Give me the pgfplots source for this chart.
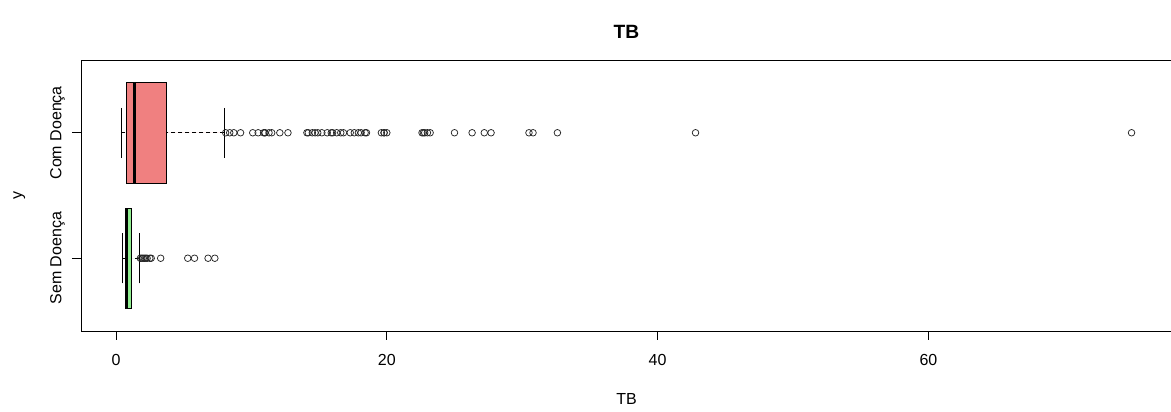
\documentclass[border=0pt]{standalone}
\usepackage{pgfplots}
\pgfplotsset{compat=1.18}
\usepgfplotslibrary{statistics}
\usepackage{fontspec}
\setmainfont{Liberation Sans}
\definecolor{coral}{RGB}{240,128,128}
\definecolor{lgreen}{RGB}{144,238,144}
\begin{document}
\fontsize{16}{19}\selectfont
\begin{tikzpicture}
\path[use as bounding box] (-81pt,-81pt) rectangle (1090pt,331pt);
\begin{axis}[
  at={(0pt,0pt)}, anchor=south west,
  scale only axis, width=1091pt, height=271pt,
  xmin=-2.584, xmax=77.984, ymin=0.42, ymax=2.58,
  axis line style={black, line width=0.75pt},
  xtick={0,20,40,60}, ytick={1,2}, yticklabels={Sem Doença, Com Doença},
  tick align=outside, major tick length=9pt,
  xtick pos=bottom, ytick pos=left,
  tick style={black, line width=0.75pt},
  /pgf/number format/assume math mode=true,
  xticklabel style={anchor=base, yshift=-25pt, font=\fontsize{16}{19}\selectfont},
  yticklabel style={xshift=-10.5pt, rotate=90, anchor=base, font=\fontsize{16}{19}\selectfont},
  title={TB},
  title style={at={(axis description cs:0.5,1)}, anchor=base, yshift=15pt, font=\bfseries\fontsize{19.2}{23}\selectfont},
  xlabel={TB}, ylabel={y},
  every axis x label/.style={at={(axis description cs:0.5,0)}, anchor=base, yshift=-74pt, font=\fontsize{16}{19}\selectfont},
  every axis y label/.style={at={(axis description cs:0,0.5)}, xshift=-59pt, rotate=90, anchor=base, font=\fontsize{16}{19}\selectfont},
  boxplot/draw direction=x,
  boxplot/box extend=0.8,
  boxplot/whisker extend=0.4,
  boxplot/every median/.style={line width=3pt},
  boxplot/draw/lower whisker/.code={%
    \draw[dash pattern=on 4pt off 3pt] (boxplot box cs:\pgfplotsboxplotvalue{lower whisker},0.5) -- (boxplot box cs:\pgfplotsboxplotvalue{lower quartile},0.5);
    \draw (boxplot whisker cs:\pgfplotsboxplotvalue{lower whisker},0) -- (boxplot whisker cs:\pgfplotsboxplotvalue{lower whisker},1);
  },
  boxplot/draw/upper whisker/.code={%
    \draw[dash pattern=on 4pt off 3pt] (boxplot box cs:\pgfplotsboxplotvalue{upper whisker},0.5) -- (boxplot box cs:\pgfplotsboxplotvalue{upper quartile},0.5);
    \draw (boxplot whisker cs:\pgfplotsboxplotvalue{upper whisker},0) -- (boxplot whisker cs:\pgfplotsboxplotvalue{upper whisker},1);
  },
]
\addplot[boxplot prepared={draw position=2, lower whisker=0.4, lower quartile=0.8, median=1.4, upper quartile=3.7, upper whisker=8.0},
  fill=coral, draw=black, line width=0.75pt,
  mark=o, mark size=3.3pt, mark options={draw=black!85, fill=none, solid, line width=0.75pt}]
  table[row sep=\\, y index=0] {
  v\\ 8.1\\ 8.4\\ 8.7\\ 9.2\\ 10.1\\ 10.5\\ 10.9\\ 11.0\\ 11.0\\ 11.3\\ 11.5\\ 12.1\\ 12.7\\
  14.1\\ 14.2\\ 14.5\\ 14.7\\ 14.9\\ 15.2\\ 15.6\\ 15.9\\ 16.0\\ 16.3\\ 16.6\\ 16.8\\ 17.3\\ 17.6\\
  17.9\\ 18.1\\ 18.4\\ 18.5\\ 19.6\\ 19.8\\ 19.8\\ 20.0\\ 22.6\\ 22.7\\ 22.8\\ 23.0\\ 23.2\\
  25.0\\ 26.3\\ 27.2\\ 27.7\\ 30.5\\ 30.8\\ 32.6\\ 42.8\\ 75.0\\
  };
\addplot[boxplot prepared={draw position=1, lower whisker=0.5, lower quartile=0.7, median=0.8, upper quartile=1.1, upper whisker=1.7},
  fill=lgreen, draw=black, line width=0.75pt,
  mark=o, mark size=3.3pt, mark options={draw=black!85, fill=none, solid, line width=0.75pt}]
  table[row sep=\\, y index=0] {
  v\\ 1.8\\ 1.9\\ 2.0\\ 2.1\\ 2.2\\ 2.3\\ 2.5\\ 2.6\\ 3.3\\ 5.3\\ 5.8\\ 6.8\\ 7.3\\
  };
\end{axis}
\end{tikzpicture}
\end{document}
